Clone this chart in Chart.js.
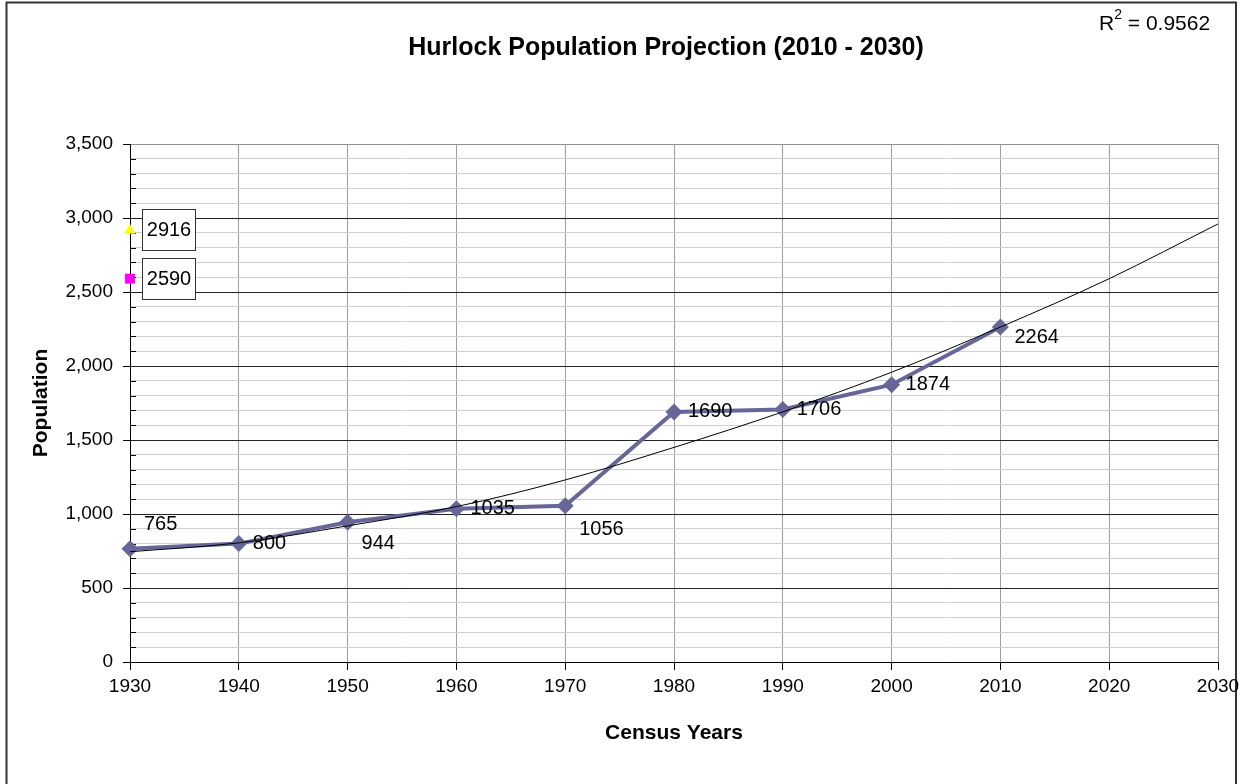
<!DOCTYPE html>
<html>
<head>
<meta charset="utf-8">
<title>Hurlock Population Projection</title>
<script src="https://cdn.jsdelivr.net/npm/chart.js@4.4.0/dist/chart.umd.min.js"></script>
<style>
  html, body { margin: 0; padding: 0; background: #fff; }
  canvas { display: block; }
</style>
</head>
<body>
<canvas id="popChart" width="1249" height="784"></canvas>
<script>
// Census counts
const censusYears = [1930, 1940, 1950, 1960, 1970, 1980, 1990, 2000, 2010];
const censusPopulation = [765, 800, 944, 1035, 1056, 1690, 1706, 1874, 2264];

// Polynomial trend line, one sample per decade out to 2030
const trendYears = [1930, 1940, 1950, 1960, 1970, 1980, 1990, 2000, 2010, 2020, 2030];
const trendPopulation = [745, 805, 920, 1050, 1230, 1450, 1690, 1958, 2263, 2590, 2960];
const trendR2 = '0.9562';

// 2030 projections, parked on the first year with a boxed label
const projectionYear = [1930];
const projectionHigh = [2916];
const projectionLow = [2590];

// Axis setup
const yearMin = 1930, yearMax = 2030, yearStep = 10;
const popMin = 0, popMax = 3500, popMajor = 500, popMinor = 100;

// vertical nudge for each census label (px), keeps them off the lines
const censusLabelShift = [-24, 0, 21, 0, 24, 0, 0, 0, 11];

const FONT = "'Liberation Sans', Arial, sans-serif";
Chart.defaults.font.family = FONT;
Chart.defaults.color = '#000';

const toPoints = (xs, ys) => xs.map((x, i) => ({ x: x, y: ys[i] }));

// white page, outer frame, title and R-squared note
const framePlugin = {
    id: 'frame',
    beforeDraw(chart) {
        const ctx = chart.ctx;
        ctx.save();
        ctx.fillStyle = '#fff';
        ctx.fillRect(0, 0, chart.width, chart.height);
        ctx.strokeStyle = '#333';
        ctx.lineWidth = 2;
        ctx.strokeRect(6.5, 2.5, 1229.5, 820);
        ctx.restore();
    },
    afterDraw(chart) {
        const ctx = chart.ctx;
        ctx.save();
        ctx.fillStyle = '#000';
        ctx.textBaseline = 'alphabetic';
        ctx.textAlign = 'center';
        ctx.font = 'bold 25px ' + FONT;
        ctx.fillText('Hurlock Population Projection (2010 - 2030)', 666, 55);

        // R² = ...
        ctx.textAlign = 'left';
        let x = 1099;
        ctx.font = '21px ' + FONT;
        ctx.fillText('R', x, 30);
        x += ctx.measureText('R').width;
        ctx.font = '14px ' + FONT;
        ctx.fillText('2', x, 19);
        x += ctx.measureText('2').width;
        ctx.font = '21px ' + FONT;
        ctx.fillText(' = ' + trendR2, x, 30);
        ctx.restore();
    }
};

// short inner tick marks for the minor y steps
const minorTickPlugin = {
    id: 'minorTicks',
    beforeDatasetsDraw(chart) {
        const ctx = chart.ctx;
        const y = chart.scales.y;
        const left = chart.chartArea.left;
        ctx.save();
        ctx.strokeStyle = '#000';
        ctx.lineWidth = 1;
        ctx.beginPath();
        y.ticks.forEach(t => {
            if (t.value % popMajor !== 0) {
                const py = Math.round(y.getPixelForValue(t.value)) + 0.5;
                ctx.moveTo(left, py);
                ctx.lineTo(left + 6, py);
            }
        });
        ctx.stroke();
        ctx.restore();
    }
};

// value labels next to the census points, boxed labels for projections
const valueLabelPlugin = {
    id: 'valueLabels',
    afterDatasetsDraw(chart) {
        const ctx = chart.ctx;
        ctx.save();
        ctx.font = '20px ' + FONT;
        ctx.fillStyle = '#000';
        ctx.textBaseline = 'middle';

        const census = chart.getDatasetMeta(1);
        ctx.textAlign = 'left';
        census.data.forEach((pt, i) => {
            ctx.fillText(String(censusPopulation[i]), pt.x + 14, pt.y + censusLabelShift[i]);
        });

        [2, 3].forEach(idx => {
            const meta = chart.getDatasetMeta(idx);
            const values = chart.data.datasets[idx].data;
            meta.data.forEach((pt, i) => {
                const bx = Math.round(pt.x) + 12.5;
                const by = Math.round(pt.y) - 20.5;
                ctx.fillStyle = '#fff';
                ctx.fillRect(bx, by, 53, 41);
                ctx.strokeStyle = '#333';
                ctx.lineWidth = 1;
                ctx.strokeRect(bx, by, 53, 41);
                ctx.fillStyle = '#000';
                ctx.textAlign = 'center';
                ctx.fillText(String(values[i].y), bx + 26.5, by + 21);
            });
        });
        ctx.restore();
    }
};

new Chart(document.getElementById('popChart'), {
    type: 'line',
    data: {
        datasets: [
            {
                label: 'Poly. (Population)',
                data: toPoints(trendYears, trendPopulation),
                borderColor: '#000',
                borderWidth: 1,
                pointRadius: 0,
                cubicInterpolationMode: 'monotone',
                fill: false,
                clip: false,
                order: 0
            },
            {
                label: 'Population',
                data: toPoints(censusYears, censusPopulation),
                borderColor: '#666699',
                backgroundColor: '#666699',
                borderWidth: 4,
                pointStyle: 'rectRot',
                pointRadius: 8.5,
                pointBorderWidth: 0,
                tension: 0,
                fill: false,
                clip: false,
                order: 1
            },
            {
                label: 'Projection (high)',
                data: toPoints(projectionYear, projectionHigh),
                showLine: false,
                pointStyle: 'triangle',
                pointRadius: 6.5,
                backgroundColor: '#ffff00',
                borderColor: '#ffff00',
                pointBorderWidth: 0,
                clip: false,
                order: 2
            },
            {
                label: 'Projection (low)',
                data: toPoints(projectionYear, projectionLow),
                showLine: false,
                pointStyle: 'rect',
                pointRadius: 7,
                backgroundColor: '#ff00ff',
                borderColor: '#ff00ff',
                pointBorderWidth: 0,
                clip: false,
                order: 3
            }
        ]
    },
    options: {
        responsive: false,
        animation: false,
        events: [],
        layout: { padding: { top: 144, right: 31, bottom: 0, left: 0 } },
        plugins: {
            legend: { display: false },
            title: { display: false },
            tooltip: { enabled: false }
        },
        scales: {
            x: {
                type: 'linear',
                min: yearMin,
                max: yearMax,
                afterFit(scale) { scale.height = 122; },
                ticks: {
                    stepSize: yearStep,
                    padding: 5,
                    font: { size: 19 },
                    color: '#000',
                    callback: v => String(v)
                },
                grid: {
                    color: '#a0a0a0',
                    lineWidth: 1,
                    tickLength: 8,
                    tickColor: '#000'
                },
                border: { color: '#000', width: 1 },
                title: {
                    display: true,
                    text: 'Census Years',
                    font: { size: 21, weight: 'bold' },
                    color: '#000',
                    padding: { top: 0, bottom: 38 }
                }
            },
            y: {
                type: 'linear',
                min: popMin,
                max: popMax,
                afterFit(scale) { scale.width = 130; },
                ticks: {
                    stepSize: popMinor,
                    autoSkip: false,
                    padding: 10,
                    font: { size: 19 },
                    color: '#000',
                    callback: v => (v % popMajor === 0 ? v.toLocaleString('en-US') : '')
                },
                grid: {
                    lineWidth: 1,
                    tickLength: 7,
                    color: ctx => {
                        const v = ctx.tick.value;
                        if (v === popMax) return '#909090';
                        return v % popMajor === 0 ? '#222' : '#d0d0d0';
                    },
                    tickColor: ctx => (ctx.tick.value % popMajor === 0 ? '#000' : 'rgba(0,0,0,0)')
                },
                border: { color: '#000', width: 1 },
                title: {
                    display: true,
                    text: 'Population',
                    font: { size: 21, weight: 'bold' },
                    color: '#000',
                    padding: { top: 29, bottom: 0 }
                }
            }
        }
    },
    plugins: [framePlugin, minorTickPlugin, valueLabelPlugin]
});
</script>
</body>
</html>
